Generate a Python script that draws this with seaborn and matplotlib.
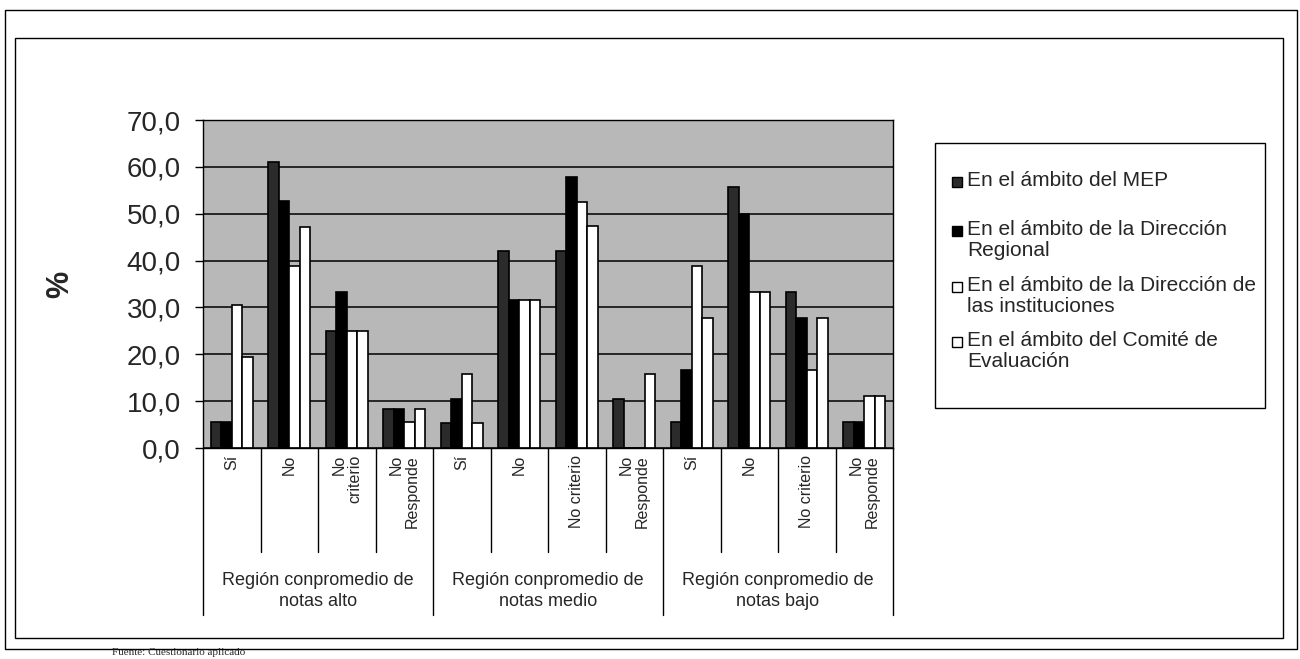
import pandas as pd
import matplotlib
matplotlib.use('Agg')
import matplotlib.pyplot as plt
import matplotlib.transforms as mtransforms
from matplotlib.patches import Rectangle
import seaborn as sns

grupos = ['Región conpromedio de\nnotas alto',
          'Región conpromedio de\nnotas medio',
          'Región conpromedio de\nnotas bajo']
respuestas = ['Sí', 'No', 'No\ncriterio', 'No\nResponde',
              'Sí', 'No', 'No criterio', 'No\nResponde',
              'Sí', 'No', 'No criterio', 'No\nResponde']
series = ['En el ámbito del MEP',
          'En el ámbito de la Dirección\nRegional',
          'En el ámbito de la Dirección de\nlas instituciones',
          'En el ámbito del Comité de\nEvaluación']

mep = [5.6, 61.1, 25.0, 8.3, 5.3, 42.1, 42.1, 10.5, 5.6, 55.6, 33.3, 5.6]
regional = [5.6, 52.8, 33.3, 8.3, 10.5, 31.6, 57.9, 0.0, 16.7, 50.0, 27.8, 5.6]
instituciones = [30.6, 38.9, 25.0, 5.6, 15.8, 31.6, 52.6, 0.0, 38.9, 33.3, 16.7, 11.1]
comite = [19.4, 47.2, 25.0, 8.3, 5.3, 31.6, 47.4, 15.8, 27.8, 33.3, 27.8, 11.1]
yticks = [0, 10, 20, 30, 40, 50, 60, 70]

colores = ['#2b2b2b', '#000000', '#ffffff', '#ffffff']

claves = ['%d-%s' % (i, r) for i, r in enumerate(respuestas)]
df = pd.DataFrame({'clave': claves * 4,
                   'serie': [s for s in series for _ in claves],
                   'pct': mep + regional + instituciones + comite})

sns.set_style('white')
plt.rcParams['font.family'] = ['Liberation Sans', 'DejaVu Sans']

W, H = 1300, 659
fig = plt.figure(figsize=(13, 6.59), dpi=100)
ax = fig.add_axes([203 / W, 1 - 448 / H, 690 / W, 328 / H])

sns.barplot(data=df, x='clave', y='pct', hue='serie', order=claves,
            hue_order=series, palette=colores, saturation=1,
            edgecolor='black', linewidth=1.2, width=0.73, gap=0,
            errorbar=None, legend=False, ax=ax)

ax.set_facecolor('#b8b8b8')
ax.set_ylim(0, 70)
ax.set_xlim(-0.5, 11.5)
ax.set_yticks(yticks)
ax.set_yticklabels([('%.1f' % v).replace('.', ',') for v in yticks], fontsize=20)
ax.tick_params(axis='y', direction='out', length=6, width=1, color='black', pad=10, left=True)
ax.set_xticks([])
ax.set_xlabel('')
ax.set_ylabel('%', fontsize=22, fontweight='bold')
ax.yaxis.set_label_coords(-128 / 690, 0.5)
ax.yaxis.grid(True, color='black', lw=1.1)
ax.set_axisbelow(True)
for s in ax.spines.values():
    s.set_visible(True)
    s.set_color('black')
    s.set_linewidth(1)

trans = mtransforms.blended_transform_factory(ax.transData, ax.transAxes)
for i in range(13):
    fondo = -0.509 if i % 4 == 0 else -0.317
    ax.plot([i - 0.5, i - 0.5], [0, fondo], transform=trans, clip_on=False,
            color='black', lw=1)
for i, r in enumerate(respuestas):
    ax.text(i, -0.022, r, transform=trans, rotation=90, ha='center', va='top',
            multialignment='right', fontsize=11.5, linespacing=1.05)
for g, nombre in enumerate(grupos):
    ax.text(4 * g + 1.5, -0.436, nombre, transform=trans, ha='center',
            va='center', fontsize=13, linespacing=1.3)

# leyenda a mano, como la de Excel
fig.add_artist(Rectangle((935 / W, 1 - 408 / H), 330 / W, 265 / H,
                         transform=fig.transFigure, fill=False, ec='black', lw=1))
for y, s, c in zip([182, 231, 287, 342], series, colores):
    fig.add_artist(Rectangle((952 / W, 1 - (y + 5) / H), 10 / W, 10 / H,
                             transform=fig.transFigure, fc=c, ec='black', lw=1))
    fig.text(967 / W, 1 - (y - 11) / H, s, va='top', ha='left', fontsize=15,
             linespacing=1.15)

fig.add_artist(Rectangle((5 / W, 1 - 649 / H), 1292 / W, 639 / H,
                         transform=fig.transFigure, fill=False, ec='black', lw=1))
fig.add_artist(Rectangle((15 / W, 1 - 638 / H), 1268 / W, 600 / H,
                         transform=fig.transFigure, fill=False, ec='black', lw=1))
fig.text(112 / W, 1 - 657 / H, 'Fuente: Cuestionario aplicado', va='bottom',
         ha='left', fontsize=8, family='Liberation Serif')

fig.savefig('out.png', dpi=100)
